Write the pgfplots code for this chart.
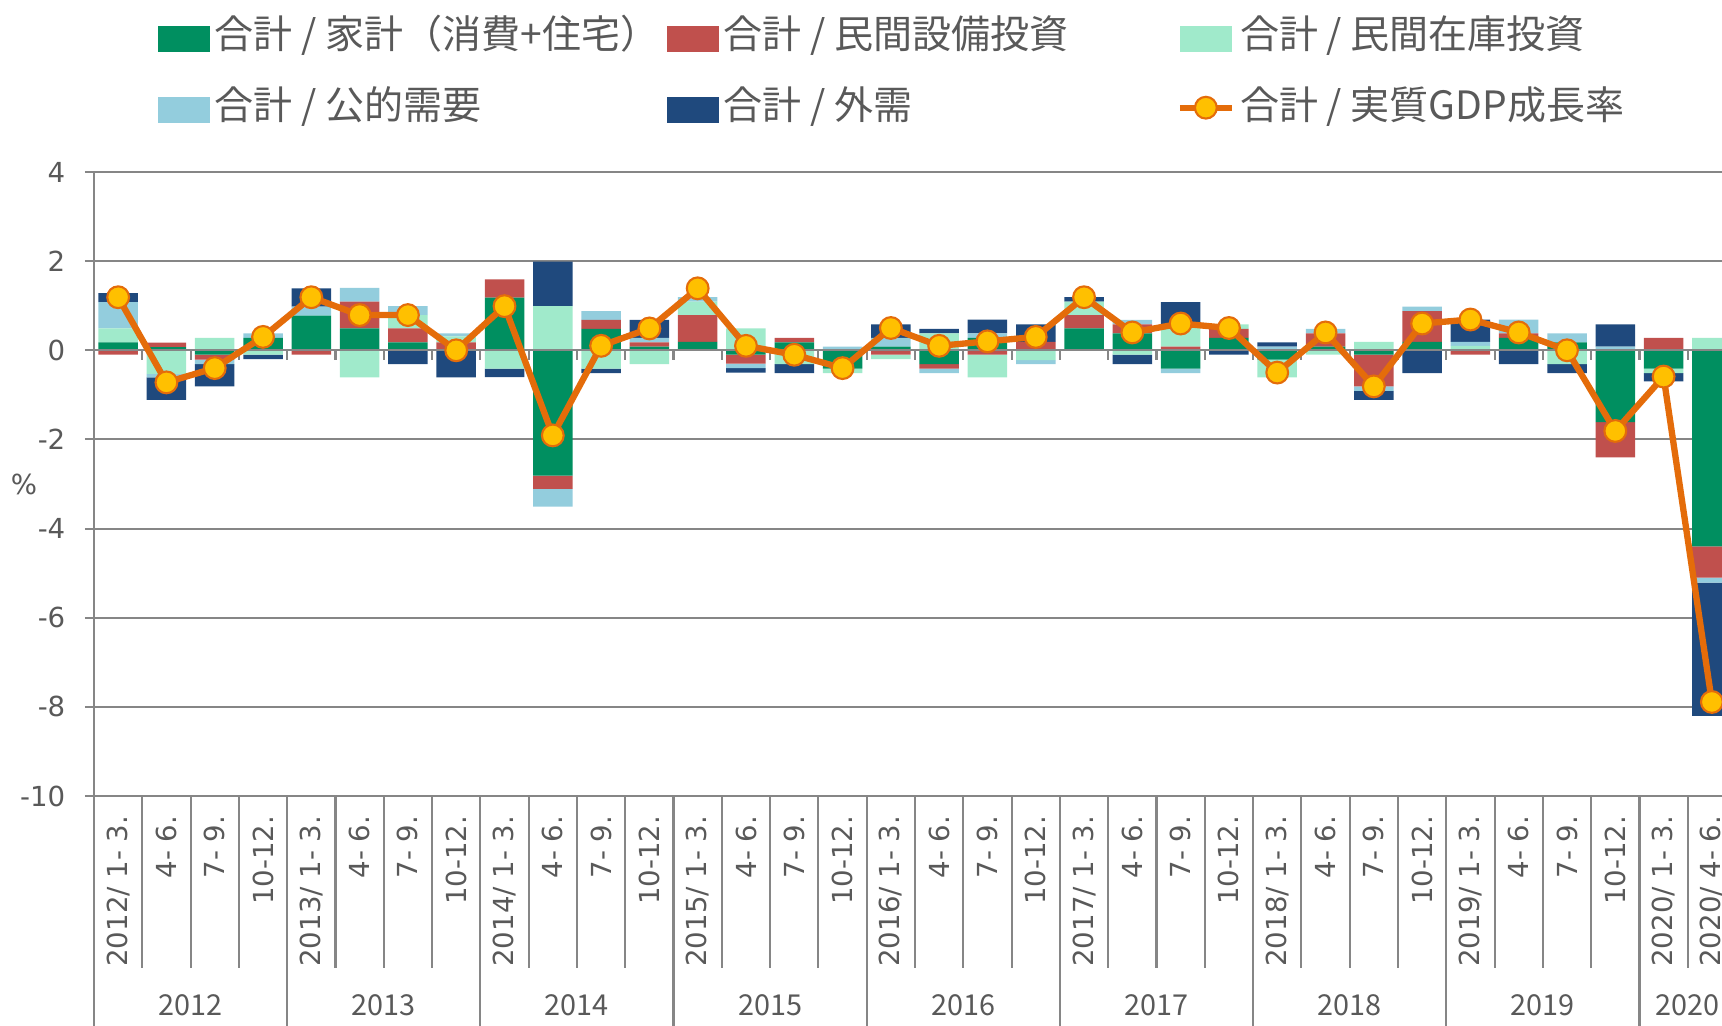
\documentclass[border=0pt]{standalone}
\usepackage{fontspec}
\setmainfont{DejaVu Sans}
\newfontfamily\jp{Noto Sans CJK JP}
\usepackage{pgfplots}
\usepackage{pgfplotstable}
\pgfplotsset{compat=1.18}

\definecolor{hhc}{RGB}{0,143,96}
\definecolor{capc}{RGB}{192,80,77}
\definecolor{invc}{RGB}{160,234,203}
\definecolor{pubc}{RGB}{147,205,221}
\definecolor{extc}{RGB}{31,73,125}
\definecolor{gdpc}{RGB}{228,108,10}
\definecolor{mkc}{RGB}{255,192,0}
\definecolor{txt}{RGB}{89,89,89}
\definecolor{grd}{RGB}{134,134,134}

\pgfplotstableread{
x hh cap inv pub ext gdp
0 0.18 -0.10 0.31 0.59 0.20 1.19
1 0.07 0.10 -0.53 -0.08 -0.50 -0.72
2 -0.10 -0.11 0.28 -0.10 -0.50 -0.40
3 0.28 0.00 -0.10 0.10 -0.10 0.30
4 0.78 -0.10 0.00 0.20 0.41 1.19
5 0.49 0.60 -0.61 0.31 0.00 0.79
6 0.18 0.31 0.30 0.20 -0.31 0.79
7 0.00 0.18 0.13 0.07 -0.61 0.00
8 1.18 0.41 -0.41 0.00 -0.19 0.99
9 -2.81 -0.30 0.99 -0.40 1.00 -1.91
10 0.48 0.20 -0.41 0.20 -0.10 0.10
11 0.08 0.10 -0.31 0.10 0.40 0.49
12 0.19 0.60 0.30 0.10 0.00 1.39
13 -0.10 -0.20 0.49 -0.10 -0.10 0.10
14 0.18 0.10 -0.31 0.00 -0.20 -0.10
15 -0.41 0.00 -0.10 0.08 0.00 -0.40
16 0.08 -0.10 -0.10 0.20 0.30 0.50
17 -0.31 -0.10 0.38 -0.10 0.10 0.10
18 0.28 -0.10 -0.51 0.10 0.31 0.20
19 0.00 0.19 -0.22 -0.09 0.39 0.30
20 0.49 0.30 0.30 0.00 0.10 1.19
21 0.38 0.20 -0.10 0.10 -0.21 0.40
22 -0.41 0.08 0.50 -0.10 0.50 0.60
23 0.28 0.20 0.10 0.00 -0.10 0.50
24 -0.21 0.00 -0.40 0.08 0.10 -0.50
25 0.08 0.30 -0.10 0.10 0.00 0.40
26 -0.10 -0.71 0.19 -0.10 -0.20 -0.81
27 0.19 0.69 0.00 0.10 -0.51 0.60
28 0.00 -0.10 0.10 0.09 0.50 0.69
29 0.28 0.10 0.00 0.31 -0.31 0.40
30 0.18 0.00 -0.31 0.20 -0.20 0.00
31 -1.61 -0.79 0.00 0.08 0.50 -1.81
32 -0.41 0.28 -0.10 0.00 -0.19 -0.59
33 -4.40 -0.70 0.28 -0.11 -2.99 -7.89
}\data

\pgfplotsset{
  base/.style={width=16.28cm, height=6.24cm, scale only axis,
    xmin=-0.5, xmax=33.21, ymin=-10, ymax=4, clip=false},
  bars/.style={ybar stacked, bar width=0.395cm, bar shift=0pt},
  swatch/.style={legend image code/.code={\fill[##1, draw=none] (0cm,-0.17cm) rectangle (0.52cm,0.09cm);}},
  lineleg/.style={legend image code/.code={\draw[mark repeat=2,mark phase=2,##1] plot coordinates {(0cm,-0.02cm) (0.26cm,-0.02cm) (0.52cm,-0.02cm)};}},
}
\newcommand{\tfont}{\fontsize{7.85}{9}\selectfont}
\newcommand{\yfont}{\jp\fontsize{8.2}{9}\selectfont}

\begin{document}
\begin{tikzpicture}
% Axis A: frame, grid, labels, positive stacks
\begin{axis}[base, bars, name=A,
  axis y line*=left, axis x line*=bottom,
  axis line style={grd, line width=0.8pt},
  ymajorgrids, grid style={grd, line width=0.6pt},
  ytick={-10,-8,...,4}, yticklabels={-10,-8,-6,-4,-2,0,2,4},
  yticklabel style={font=\tfont, text=txt, inner sep=0pt, xshift=-0.19cm},
  tick align=outside, major tick length=0.09cm,
  ytick style={grd, line width=0.6pt},
  xtick={0,...,33}, xtick style={draw=none},
  xticklabels={2012/ 1- 3.,4- 6.,7- 9.,10-12.,2013/ 1- 3.,4- 6.,7- 9.,10-12.,2014/ 1- 3.,4- 6.,7- 9.,10-12.,2015/ 1- 3.,4- 6.,7- 9.,10-12.,2016/ 1- 3.,4- 6.,7- 9.,10-12.,2017/ 1- 3.,4- 6.,7- 9.,10-12.,2018/ 1- 3.,4- 6.,7- 9.,10-12.,2019/ 1- 3.,4- 6.,7- 9.,10-12.,2020/ 1- 3.,2020/ 4- 6.},
  xticklabel style={rotate=90, anchor=east, inner sep=0pt, font=\tfont, text=txt},
  xticklabel shift=0.10cm,
]
\addplot[fill=hhc, draw=none] table[x=x, y expr={max(\thisrow{hh},0)}] \data;
\addplot[fill=capc, draw=none] table[x=x, y expr={max(\thisrow{cap},0)}] \data;
\addplot[fill=invc, draw=none] table[x=x, y expr={max(\thisrow{inv},0)}] \data;
\addplot[fill=pubc, draw=none] table[x=x, y expr={max(\thisrow{pub},0)}] \data;
\addplot[fill=extc, draw=none] table[x=x, y expr={max(\thisrow{ext},0)}] \data;
\pgfplotsinvokeforeach{0.5,1.5,2.5,4.5,5.5,6.5,8.5,9.5,10.5,12.5,13.5,14.5,16.5,17.5,18.5,20.5,21.5,22.5,24.5,25.5,26.5,28.5,29.5,30.5,32.5}{
  \draw[grd, line width=0.6pt] (axis cs:#1,-10) -- ([yshift=-1.72cm]axis cs:#1,-10);}
\pgfplotsinvokeforeach{-0.5,3.5,7.5,11.5,15.5,19.5,23.5,27.5,31.5}{
  \draw[grd, line width=0.6pt] (axis cs:#1,-10) -- ([yshift=-2.40cm]axis cs:#1,-10);}
\node[font=\yfont, text=txt, yshift=-2.09cm] at (axis cs:1.5,-10) {2012};
\node[font=\yfont, text=txt, yshift=-2.09cm] at (axis cs:5.5,-10) {2013};
\node[font=\yfont, text=txt, yshift=-2.09cm] at (axis cs:9.5,-10) {2014};
\node[font=\yfont, text=txt, yshift=-2.09cm] at (axis cs:13.5,-10) {2015};
\node[font=\yfont, text=txt, yshift=-2.09cm] at (axis cs:17.5,-10) {2016};
\node[font=\yfont, text=txt, yshift=-2.09cm] at (axis cs:21.5,-10) {2017};
\node[font=\yfont, text=txt, yshift=-2.09cm] at (axis cs:25.5,-10) {2018};
\node[font=\yfont, text=txt, yshift=-2.09cm] at (axis cs:29.5,-10) {2019};
\node[font=\yfont, text=txt, yshift=-2.09cm] at (axis cs:32.5,-10) {2020};
\node[font=\tfont, text=txt, xshift=-0.70cm] at (axis cs:-0.5,-3) {\%};
\end{axis}
% Axis B: negative stacks
\begin{axis}[base, bars, hide axis]
\addplot[fill=hhc, draw=none] table[x=x, y expr={min(\thisrow{hh},0)}] \data;
\addplot[fill=capc, draw=none] table[x=x, y expr={min(\thisrow{cap},0)}] \data;
\addplot[fill=invc, draw=none] table[x=x, y expr={min(\thisrow{inv},0)}] \data;
\addplot[fill=pubc, draw=none] table[x=x, y expr={min(\thisrow{pub},0)}] \data;
\addplot[fill=extc, draw=none] table[x=x, y expr={min(\thisrow{ext},0)}] \data;
\end{axis}
% Axis C: zero line, GDP line, legend
\begin{axis}[base, hide axis,
  legend columns=3,
  legend cell align=left,
  legend style={at={(rel axis cs:0,1)}, anchor=north west, xshift=0.63cm, yshift=1.58cm,
    draw=none, fill=none, inner sep=0pt, column sep=0pt, row sep=0.31cm,
    font=\jp\fontsize{11.1}{12}\selectfont, text=txt,
    nodes={inner sep=0pt, text height=0.34cm, text depth=0.06cm}},
]
\addlegendimage{swatch, fill=hhc}
\addlegendentry{\makebox[4.57cm][l]{\hspace{0.05cm}合計 / 家計（消費+住宅）}}
\addlegendimage{swatch, fill=capc}
\addlegendentry{\makebox[4.58cm][l]{\hspace{0.05cm}合計 / 民間設備投資}}
\addlegendimage{swatch, fill=invc}
\addlegendentry{\makebox[4.0cm][l]{\hspace{0.05cm}合計 / 民間在庫投資}}
\addlegendimage{swatch, fill=pubc}
\addlegendentry{\makebox[4.57cm][l]{\hspace{0.05cm}合計 / 公的需要}}
\addlegendimage{swatch, fill=extc}
\addlegendentry{\makebox[4.58cm][l]{\hspace{0.05cm}合計 / 外需}}
\addplot[grd, line width=0.6pt, forget plot] coordinates {(-0.5,0) (33.3,0)};
\addplot[grd, line width=0.6pt, ycomb, no marks, forget plot] coordinates {
(0.5,-0.22) (1.5,-0.22) (2.5,-0.22) (3.5,-0.22) (4.5,-0.22) (5.5,-0.22) (6.5,-0.22) (7.5,-0.22)
(8.5,-0.22) (9.5,-0.22) (10.5,-0.22) (11.5,-0.22) (12.5,-0.22) (13.5,-0.22) (14.5,-0.22) (15.5,-0.22)
(16.5,-0.22) (17.5,-0.22) (18.5,-0.22) (19.5,-0.22) (20.5,-0.22) (21.5,-0.22) (22.5,-0.22) (23.5,-0.22)
(24.5,-0.22) (25.5,-0.22) (26.5,-0.22) (27.5,-0.22) (28.5,-0.22) (29.5,-0.22) (30.5,-0.22) (31.5,-0.22) (32.5,-0.22)};
\addplot[lineleg, gdpc, line width=1.8pt, mark=*, mark size=3.1pt,
  mark options={fill=mkc, draw=gdpc, line width=0.6pt}]
  table[x=x, y=gdp] \data;
\addlegendentry{\makebox[4.0cm][l]{\hspace{0.05cm}合計 / 実質GDP成長率}}
\end{axis}
\pgfresetboundingbox
\path ([xshift=-0.94cm,yshift=-2.29cm]A.south west) rectangle ([yshift=1.72cm]A.north east);
\end{tikzpicture}
\end{document}
